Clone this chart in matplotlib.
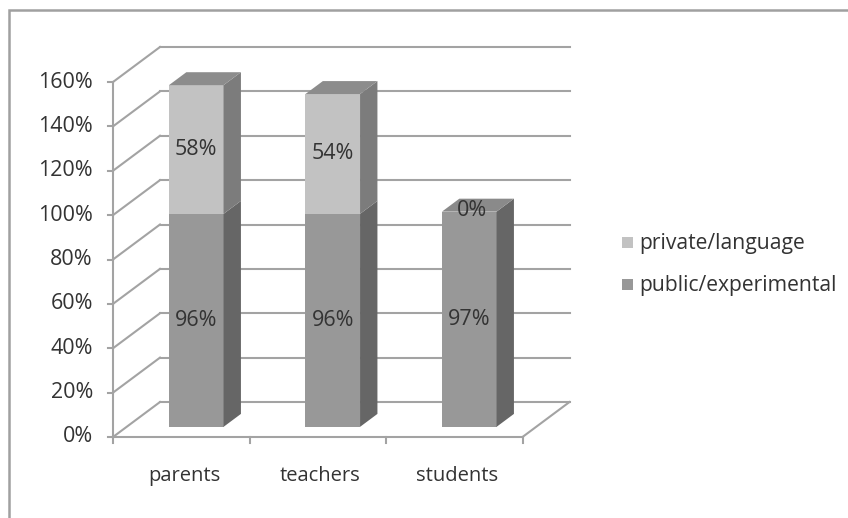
import matplotlib
matplotlib.use("Agg")
import matplotlib.pyplot as plt
from matplotlib.patches import Polygon, Rectangle

# ---- data ----
categories = ["parents", "teachers", "students"]
public_experimental = [96, 96, 97]
private_language = [58, 54, 0]
series_names = ["private/language", "public/experimental"]
y_ticks = [0, 20, 40, 60, 80, 100, 120, 140, 160]
y_tick_labels = [f"{v}%" for v in y_ticks]

# ---- styling ----
FONT = "Open Sans"
FS = 15.5
TXT = "#333333"
GRID = "#a3a3a3"
LIGHT_FRONT, LIGHT_SIDE, LIGHT_TOP = "#c2c2c2", "#7c7c7c", "#8c8c8c"
DARK_FRONT, DARK_SIDE, DARK_TOP = "#989898", "#666666", "#8a8a8a"

W, H = 848, 518
fig = plt.figure(figsize=(W / 100, H / 100), dpi=100)
ax = fig.add_axes([0, 0, 1, 1])
# data units: x in categories, y in percent (front plane)
X0PX, CATPX = 113, 136.5
Y0PX, PCTPX = 437, 355 / 160
ax.set_xlim(-X0PX / CATPX, (W - X0PX) / CATPX)
ax.set_ylim((Y0PX - H) / PCTPX, Y0PX / PCTPX)
ax.axis("off")

DX = 47 / CATPX   # depth offset in x data units
DY = 35 / PCTPX   # depth offset in y data units
n = len(categories)


def P(x, y, d):
    return (x + d * DX, y + d * DY)


# back wall gridlines and left wall diagonals
for v, lab in zip(y_ticks, y_tick_labels):
    ax.plot(*zip(P(0, v, 1), P(n, v, 1)), color=GRID, lw=1.5, zorder=1)
    ax.plot(*zip(P(0, v, 0), P(0, v, 1)), color=GRID, lw=1.5, zorder=1)
    ax.plot([-5 / CATPX, 0], [v, v], color=GRID, lw=1.5, zorder=1)
    ax.text(-20 / CATPX, v, lab, ha="right", va="center",
            fontsize=FS, family=FONT, color=TXT)

# front vertical axis, floor
ax.plot(*zip(P(0, 0, 0), P(0, y_ticks[-1], 0)), color=GRID, lw=1.5, zorder=1)
ax.plot(*zip(P(0, 0, 0), P(n, 0, 0)), color=GRID, lw=1.5, zorder=1)
ax.plot(*zip(P(n, 0, 0), P(n, 0, 1)), color=GRID, lw=1.5, zorder=1)
for i in range(n + 1):
    ax.plot([i, i], [0, -6 / PCTPX], color=GRID, lw=1.5, zorder=1)

# bars
BW, BX = 0.40, 0.31
D0, D1 = 0.29, 0.66


def box(xl, y0, y1, front, side, top, draw_top, z):
    xr = xl + BW
    ax.add_patch(Polygon([P(xl, y0, D0), P(xr, y0, D0), P(xr, y1, D0), P(xl, y1, D0)],
                         closed=True, facecolor=front, edgecolor="none", zorder=z))
    ax.add_patch(Polygon([P(xr, y0, D0), P(xr, y1, D0), P(xr, y1, D1), P(xr, y0, D1)],
                         closed=True, facecolor=side, edgecolor="none", zorder=z))
    if draw_top:
        ax.add_patch(Polygon([P(xl, y1, D0), P(xr, y1, D0), P(xr, y1, D1), P(xl, y1, D1)],
                             closed=True, facecolor=top, edgecolor="none", zorder=z))


for i, (pub, pri) in enumerate(zip(public_experimental, private_language)):
    xl = i + BX
    box(xl, 0, pub, DARK_FRONT, DARK_SIDE, DARK_TOP, pri == 0, 3)
    if pri > 0:
        box(xl, pub, pub + pri, LIGHT_FRONT, LIGHT_SIDE, LIGHT_TOP, True, 3)
    cx = xl + BW / 2
    fx, _ = P(cx, 0, D0)
    ax.text(fx, P(cx, pub / 2, D0)[1], f"{pub}%", ha="center", va="center",
            fontsize=FS, family=FONT, color=TXT, zorder=5)
    if pri > 0:
        ax.text(fx, P(cx, pub + pri / 2, D0)[1], f"{pri}%", ha="center", va="center",
                fontsize=FS, family=FONT, color=TXT, zorder=5)
    else:
        ax.text(fx + 0.02, P(cx, pub, D0)[1] + 0.5, f"{pri}%", ha="center", va="center",
                fontsize=FS, family=FONT, color=TXT, zorder=5)
    ax.text(i + 0.52, -44 / PCTPX, categories[i], ha="center", va="baseline",
            fontsize=14.5, family=FONT, color=TXT)

# legend
leg_items = [(series_names[0], LIGHT_FRONT, 243), (series_names[1], DARK_FRONT, 285)]
for name, col, ypx in leg_items:
    yd = (Y0PX - ypx) / PCTPX
    ax.add_patch(Rectangle(((622 - X0PX) / CATPX, yd - 5 / PCTPX), 11 / CATPX, 11 / PCTPX,
                           facecolor=col, edgecolor="none"))
    ax.text((639 - X0PX) / CATPX, yd, name, ha="left", va="center",
            fontsize=15.2, family=FONT, color=TXT)

# chart border (left and top visible)
ax.add_patch(Rectangle(((8.5 - X0PX) / CATPX, (Y0PX - 530) / PCTPX),
                       (900 - 8.5) / CATPX, (530 - 10) / PCTPX,
                       facecolor="none", edgecolor="#a0a0a0", lw=1.8, zorder=0))

fig.savefig("out.png", dpi=100)
